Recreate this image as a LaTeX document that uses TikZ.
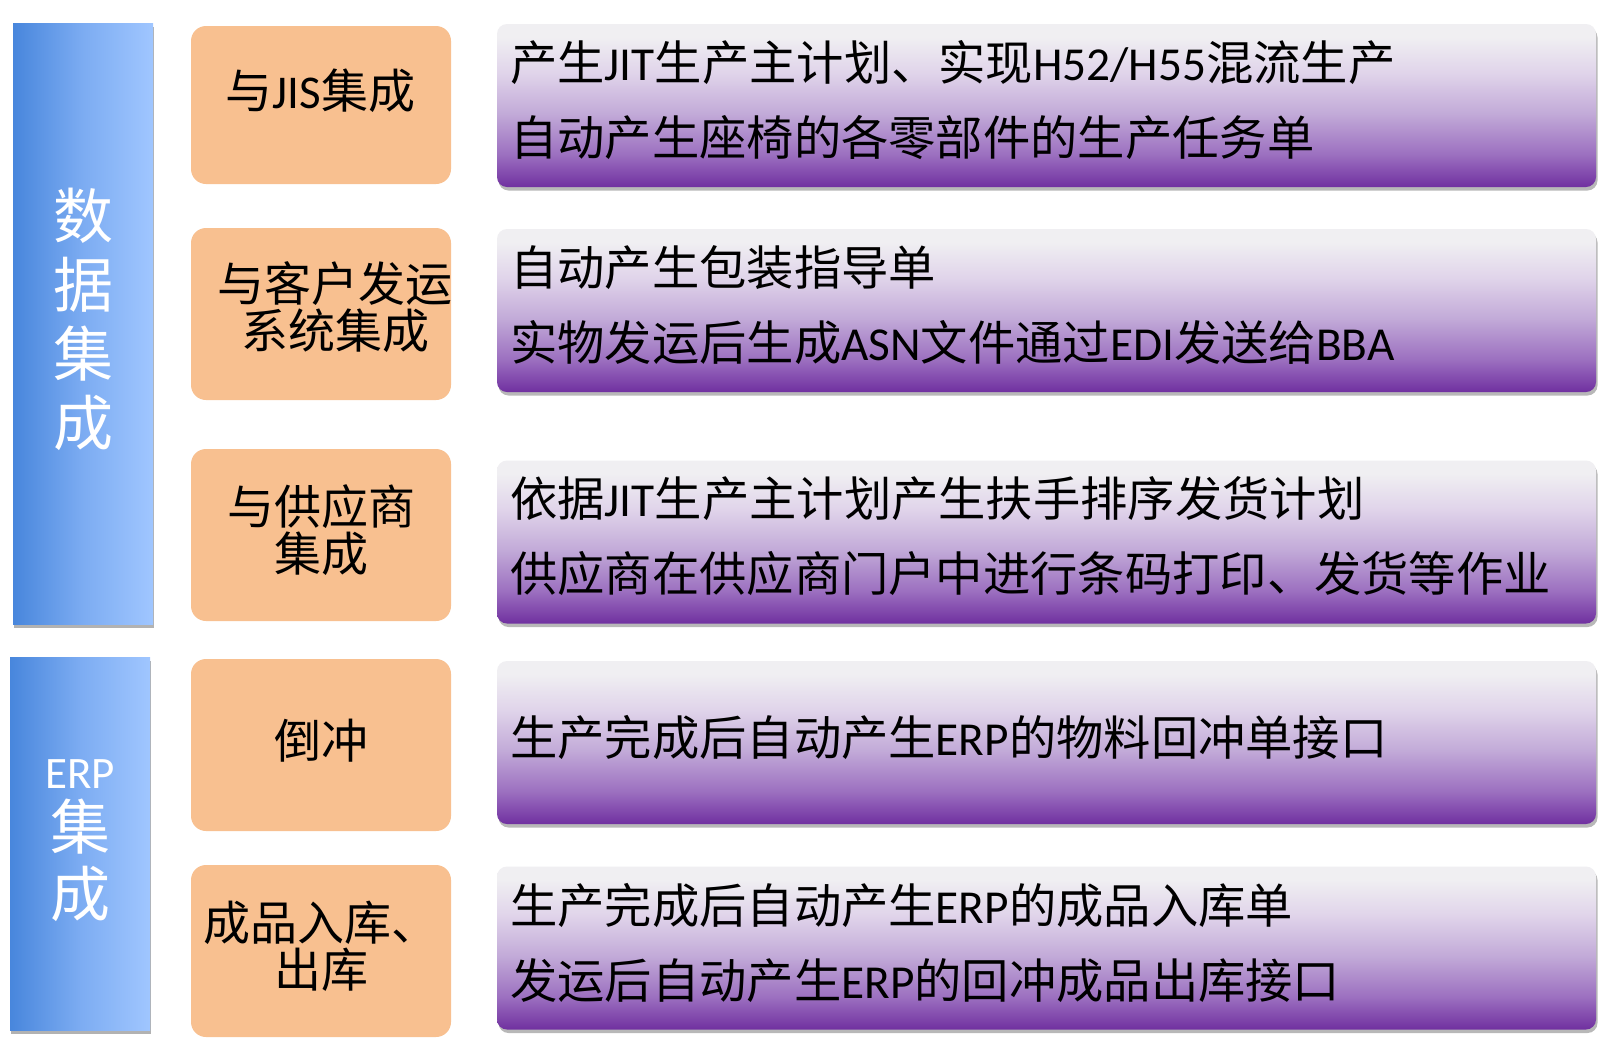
\documentclass[tikz,border=0pt]{standalone}
\usepackage{fontspec}
\setmainfont{Carlito}
\newfontfamily\zhfont{Noto Sans CJK SC}
\newcommand\zh[1]{{\zhfont #1}}
\usetikzlibrary{shadows}
\definecolor{blueL}{RGB}{72,134,220}
\definecolor{blueM}{RGB}{124,172,242}
\definecolor{blueR}{RGB}{160,198,255}
\definecolor{oran}{RGB}{248,192,144}
\definecolor{ptop}{RGB}{240,239,242}
\definecolor{pa}{RGB}{224,212,234}
\definecolor{pb}{RGB}{194,170,216}
\definecolor{pc}{RGB}{156,112,192}
\definecolor{pbot}{RGB}{112,48,160}
\pgfdeclareverticalshading{purpshade}{100bp}{color(0bp)=(pbot); color(25bp)=(pbot); color(35bp)=(pc); color(47.5bp)=(pb); color(60bp)=(pa); color(71bp)=(ptop); color(100bp)=(ptop)}
\tikzset{
  bluebar/.style={rectangle, draw=none, left color=blueL, right color=blueR, middle color=blueM,
    inner sep=0pt, outer sep=0pt, minimum width=140pt},
  bartext/.style={text=white, align=center, inner sep=0pt, font=\fontsize{60}{69}\selectfont},
  barshadow/.style={drop shadow={shadow xshift=1pt, shadow yshift=-4pt, opacity=0.3, fill=black}},
  obox/.style={rectangle, rounded corners=15pt, fill=oran, draw=none, minimum width=260pt,
    inner sep=0pt, outer sep=0pt},
  otext/.style={align=center, inner sep=0pt, font=\fontsize{47}{47}\selectfont\zhfont},
  pbox/.style={rectangle, rounded corners=10pt, shading=purpshade, draw=none,
    minimum width=1099pt, minimum height=163pt, inner sep=0pt, outer sep=0pt,
    drop shadow={shadow xshift=1.5pt, shadow yshift=-3.5pt, opacity=0.28, fill=black}},
  ptext/.style={anchor=west, inner xsep=13pt, inner ysep=0pt, align=left, yshift=5.5pt,
    font=\fontsize{47.3}{75}\selectfont}
}
\begin{document}
\begin{tikzpicture}[x=1pt,y=-1pt]
\useasboundingbox[fill=white] (0,0) rectangle (1616,1047);
% left category bars
\node[bluebar, barshadow, minimum height=601pt] (b1) at (83,323.5) {};
\node[bluebar, barshadow, minimum height=373pt] (b2) at (80,843.5) {};
\node[bartext] (bt1) at (83,319.5) {\zh{数}\\\zh{据}\\\zh{集}\\\zh{成}};
\node[bartext, font=\fontsize{60}{67}\selectfont] (bt2) at (80,841) {{\fontsize{45}{67}\selectfont ERP}\\[-6pt]\zh{集}\\\zh{成}};
% orange boxes
\node[obox, minimum height=158pt] (o1) at (321,105) {};
\node[obox, minimum height=172pt] (o2) at (321,314) {};
\node[obox, minimum height=172pt] (o3) at (321,535) {};
\node[obox, minimum height=172pt] (o4) at (321,745) {};
\node[obox, minimum height=172pt] (o5) at (321,951) {};
\node[otext] (t1) at (320.5,91) {与{\rmfamily JIS}集成};
\node[otext] (t2) at (335,307.5) {与客户发运\\系统集成};
\node[otext] (t3) at (321,530) {与供应商\\集成};
\node[otext] (t4) at (321,741) {倒冲};
\node[otext] (t5) at (321,946.5) {成品入库、\\出库};
% purple boxes
\node[pbox] (p1) at (1046.5,105.5) {};
\node[pbox] (p2) at (1046.5,310.5) {};
\node[pbox] (p3) at (1046.5,542) {};
\node[pbox] (p4) at (1046.5,742.5) {};
\node[pbox] (p5) at (1046.5,948) {};
\node[ptext] (q1) at (p1.west) {\zh{产生}JIT\zh{生产主计划、实现}H52/H55\zh{混流生产}\\\zh{自动产生座椅的各零部件的生产任务单}};
\node[ptext] (q2) at (p2.west) {\zh{自动产生包装指导单}\\\zh{实物发运后生成}ASN\zh{文件通过}EDI\zh{发送给}BBA};
\node[ptext] (q3) at (p3.west) {\zh{依据}JIT\zh{生产主计划产生扶手排序发货计划}\\\zh{供应商在供应商门户中进行条码打印、发货等作业}};
\node[ptext] (q4) at (p4.west) {\zh{生产完成后自动产生}ERP\zh{的物料回冲单接口}};
\node[ptext] (q5) at (p5.west) {\zh{生产完成后自动产生}ERP\zh{的成品入库单}\\\zh{发运后自动产生}ERP\zh{的回冲成品出库接口}};
\end{tikzpicture}
\end{document}
